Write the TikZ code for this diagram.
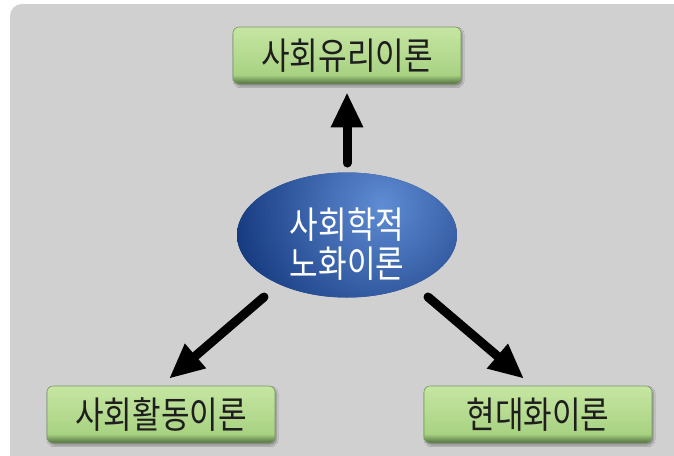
\documentclass[tikz,border=0pt]{standalone}
\usepackage{fontspec}
\newfontfamily\kr[FakeStretch=0.84]{Noto Sans CJK KR}
\usetikzlibrary{arrows.meta,shapes.geometric,shadows.blur}
\definecolor{panelgray}{RGB}{208,208,208}
\definecolor{boxtop}{RGB}{198,230,162}
\definecolor{boxmid}{RGB}{168,210,130}
\definecolor{boxdark}{RGB}{80,108,62}
\definecolor{boxedge}{RGB}{120,150,100}
\definecolor{ballhi}{RGB}{95,140,212}
\definecolor{balllo}{RGB}{22,58,128}
\definecolor{txtdark}{RGB}{30,30,30}
\pgfdeclareverticalshading{boxshade}{100bp}{color(0bp)=(boxdark); color(25bp)=(boxdark); color(33bp)=(boxmid); color(75bp)=(boxtop); color(100bp)=(boxtop)}
\tikzset{
  theory/.style={rectangle, rounded corners=6pt, minimum width=228pt, minimum height=57pt,
    draw=boxedge, line width=0.6pt, shading=boxshade,
    font=\kr\fontsize{37}{42}\selectfont, text=txtdark,
    blur shadow={shadow xshift=1.5pt, shadow yshift=-2pt, shadow opacity=35, shadow blur steps=6}},
  core/.style={ellipse, minimum width=220pt, minimum height=125pt, inner sep=0pt,
    fill=balllo,
    path picture={\shade[inner color=ballhi, outer color=balllo]
      ([xshift=35pt,yshift=30pt]path picture bounding box.center) circle (150pt);}},
  coretext/.style={text=white, align=center, font=\kr\fontsize{37}{39}\selectfont},
  arr/.style={line width=9pt, line cap=round, -{Triangle[length=35pt,width=30pt]}, black}
}
\begin{document}
\begin{tikzpicture}[x=1pt,y=-1pt]
\useasboundingbox (0,0) rectangle (674,455);
\clip (0,0) rectangle (674,455);
\fill[white] (0,0) rectangle (674,455);
\fill[panelgray, rounded corners=12pt] (10,4) rectangle (700,480);
\node[core] (ell) at (347,235) {};
\node[coretext] (elltext) at ([yshift=-9pt]ell.center) {사회학적\\노화이론};
\node[theory] (top) at (347,55.5) {사회유리이론};
\node[theory] (bl) at (161,414.5) {사회활동이론};
\node[theory] (br) at (538,414.5) {현대화이론};
\draw[arr] ([shift={(0,-72)}]ell.center) -- ([shift={(0,8)}]top.south);
\draw[arr] ([shift={(-83,62)}]ell.center) -- ([shift={(8,-7)}]bl.north);
\draw[arr] ([shift={(81,62)}]ell.center) -- ([shift={(-14,-7)}]br.north);
\end{tikzpicture}
\end{document}
